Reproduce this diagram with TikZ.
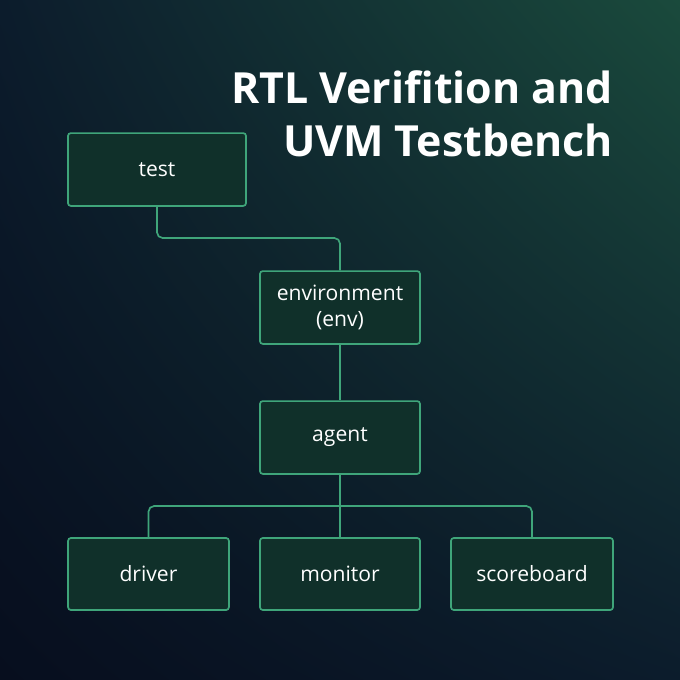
\documentclass[tikz,border=0pt]{standalone}
\usepackage{fontspec}
\setmainfont{Open Sans}
\usetikzlibrary{positioning,shadings}
\definecolor{bgdark}{HTML}{070E1E}
\definecolor{bgmid}{HTML}{0C1C2C}
\definecolor{bggreen}{HTML}{1A4A3C}
\definecolor{boxfill}{HTML}{10302A}
\definecolor{boxline}{HTML}{3FA57A}
\begin{document}
\begin{tikzpicture}[x=0.025cm,y=-0.025cm,
    box/.style={draw=boxline,line width=1.2pt,fill=boxfill,rounded corners=2pt,
      minimum width=4cm,minimum height=1.82cm,text=white,font=\fontsize{15}{18}\selectfont,
      align=center,inner sep=0pt},
    link/.style={draw=boxline,line width=1.2pt,rounded corners=4pt}]
  \shade[upper left=bgmid,upper right=bggreen,lower left=bgdark,lower right=bgmid]
    (0,0) rectangle (680,680);
  \useasboundingbox (0,0) rectangle (680,680);

  \node[anchor=east,text=white,align=right,font=\fontsize{30.5}{38}\selectfont\bfseries]
    (title) at (618,114) {RTL Verifition and\\UVM Testbench};

  \node[box,minimum width=4.45cm] (test) at (157,169.5) {test};
  \node[box] (env) at (340,307.5) {environment\\(env)};
  \node[box] (agent) at (340,437.5) {agent};
  \node[box,minimum width=4.02cm,minimum height=1.8cm] (driver) at (148.5,574) {driver};
  \node[box,minimum height=1.8cm] (monitor) at (340,574) {monitor};
  \node[box,minimum width=4.05cm,minimum height=1.8cm] (score) at (532,574) {scoreboard};

  \draw[link] (test.south) |- (340,238) -- (env.north);
  \draw[link] (env) -- (agent);
  \draw[link] (agent) -- (monitor);
  \draw[link] (driver.north) |- (340,506) -| (score.north);
\end{tikzpicture}
\end{document}
